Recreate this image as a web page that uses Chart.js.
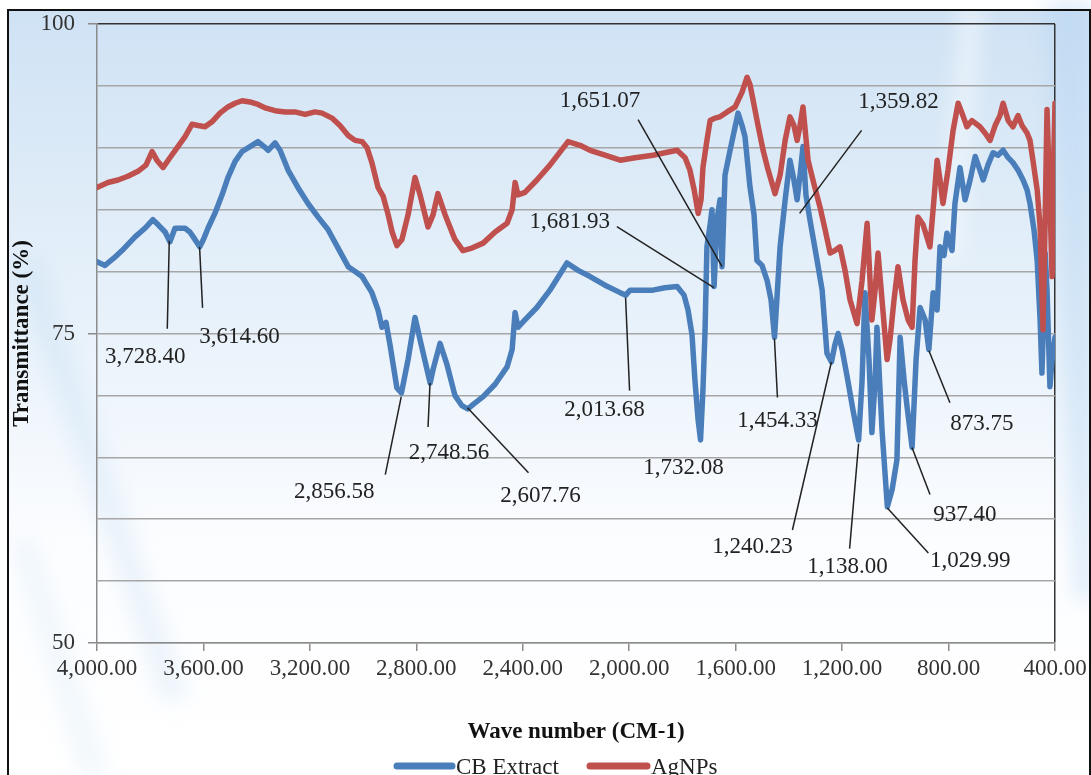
<!DOCTYPE html>
<html>
<head>
<meta charset="utf-8">
<script src="https://cdn.jsdelivr.net/npm/chart.js@4.4.1/dist/chart.umd.min.js"></script>
<style>
  html, body { margin: 0; padding: 0; background: #fff; }
  #wrap { width: 1091px; height: 775px; position: relative; overflow: hidden; }
</style>
</head>
<body>
<div id="wrap"><canvas id="c" width="1091" height="775"></canvas></div>
<script>
// ---------------- DATA ----------------
const seriesNames = ['CB Extract', 'AgNPs'];

const blueWn = [4000,3970,3936,3906,3857,3820,3790,3771,3744,3726,3707,3669,3651,3632,3614,3600,3583,3557,3530,3508,3481,3455,3425,3395,3372,3357,3331,3312,3282,3245,3207,3169,3132,3094,3056,3030,3004,2967,2944,2929,2914,2899,2873,2856,2831,2805,2786,2748,2737,2711,2685,2655,2630,2607,2585,2549,2504,2459,2440,2429,2418,2392,2347,2298,2234,2192,2147,2091,2034,2013,1997,1959,1911,1866,1820,1794,1779,1764,1753,1741,1732,1723,1715,1708,1696,1689,1681,1670,1659,1651,1640,1621,1591,1576,1565,1546,1531,1520,1501,1482,1467,1454,1433,1414,1396,1381,1369,1358,1347,1336,1321,1294,1275,1257,1240,1227,1215,1200,1181,1159,1138,1125,1114,1099,1088,1076,1069,1050,1030,1012,994,982,967,956,937,922,907,888,874,858,843,832,817,806,787,776,757,738,719,700,682,670,652,633,614,595,576,558,539,520,505,494,479,467,456,449,441,437,430,419,411,400];
const blueT  = [80.8,80.5,81.1,81.7,82.8,83.5,84.2,83.8,83.2,82.4,83.5,83.5,83.2,82.6,82.0,82.6,83.5,84.7,86.2,87.6,88.9,89.7,90.1,90.5,90.1,89.8,90.4,89.8,88.2,86.8,85.5,84.4,83.4,81.9,80.4,80.0,79.6,78.3,76.9,75.5,75.9,74.1,70.6,70.2,72.9,76.3,74.5,71.0,72.1,74.2,72.5,70.0,69.2,68.9,69.3,69.9,70.9,72.3,73.7,76.7,75.5,76.1,77.1,78.5,80.7,80.1,79.6,78.9,78.3,78.1,78.5,78.5,78.5,78.7,78.8,78.1,76.9,74.9,71.2,68.0,66.4,70.4,75.3,82.0,83.8,85.0,78.8,84.2,85.8,80.4,87.8,89.8,92.8,91.8,90.9,86.8,84.6,80.9,80.5,79.3,77.7,74.7,82.0,85.8,89.0,87.4,85.8,87.8,90.1,86.2,84.2,80.9,78.5,73.4,72.7,74.1,75.0,73.7,71.5,68.8,66.4,71.2,78.3,72.9,67.0,71.2,75.5,67.2,61.0,62.4,64.8,74.7,71.2,69.1,65.8,72.9,77.1,76.1,73.7,78.3,76.9,82.0,81.3,83.1,81.7,85.5,88.4,85.8,87.4,89.3,88.2,87.4,88.6,89.6,89.4,89.8,89.2,88.8,88.2,87.4,86.6,85.5,83.4,80.9,76.1,71.8,77.7,81.5,78.5,70.7,72.9,74.7];

const redWn = [4000,3959,3921,3884,3846,3816,3793,3775,3752,3726,3696,3669,3643,3620,3594,3568,3538,3508,3481,3455,3425,3395,3365,3331,3293,3256,3218,3181,3154,3117,3087,3056,3030,3004,2985,2967,2944,2925,2906,2891,2873,2854,2831,2805,2786,2756,2737,2719,2692,2655,2625,2591,2549,2504,2459,2440,2429,2418,2392,2347,2298,2230,2185,2147,2091,2034,1978,1911,1866,1820,1790,1772,1756,1741,1730,1723,1708,1696,1678,1659,1632,1602,1576,1557,1546,1535,1516,1497,1478,1452,1433,1414,1396,1381,1369,1358,1347,1328,1305,1283,1264,1245,1227,1208,1189,1170,1144,1125,1106,1095,1088,1076,1065,1050,1031,1020,1005,990,971,952,937,926,915,896,870,855,843,832,821,802,783,764,746,731,712,682,663,644,625,607,595,576,558,539,524,505,494,483,467,456,445,437,430,419,411,404,400];
const redT  = [86.8,87.2,87.4,87.7,88.1,88.6,89.7,89.0,88.4,89.2,90.1,90.9,91.9,91.8,91.7,92.1,92.8,93.3,93.6,93.8,93.7,93.5,93.2,93.0,92.9,92.9,92.7,92.9,92.8,92.4,91.8,91.0,90.6,90.5,90.0,88.8,86.8,86.1,84.6,83.2,82.1,82.6,84.6,87.6,86.2,83.6,84.6,86.3,84.6,82.6,81.7,81.9,82.3,83.2,83.9,85.0,87.2,86.2,86.4,87.4,88.6,90.5,90.2,89.8,89.4,89.0,89.2,89.4,89.6,89.8,89.2,88.2,86.6,84.7,85.8,88.4,90.6,92.2,92.4,92.5,92.9,93.3,94.5,95.7,95.1,93.9,91.8,89.8,88.2,86.3,87.8,90.6,92.5,91.8,90.6,91.8,93.3,89.0,87.0,85.2,83.4,81.5,81.7,82.0,80.1,77.7,75.8,79.3,83.9,79.3,76.1,78.5,81.5,77.7,72.9,74.5,77.7,80.4,77.7,76.1,75.5,80.9,84.4,83.8,82.0,85.8,89.0,87.4,85.5,88.2,91.4,93.6,92.6,91.7,92.2,91.7,91.2,90.6,91.8,92.6,93.6,92.2,91.7,92.6,91.8,91.2,90.6,89.0,86.6,83.6,75.3,84.2,93.1,85.8,79.6,89.8,93.6];

// annotated peaks (on the CB Extract curve)
const peakWn = [3728.40,3614.60,2856.58,2748.56,2607.76,2013.68,1732.08,1681.93,1651.07,1454.33,1359.82,1240.23,1138.00,1029.99,937.40,873.75];
const peakT  = [82.5,82.0,69.9,71.0,69.0,77.9,66.4,78.7,80.4,74.6,84.7,72.7,66.1,60.9,65.8,73.6];

// tick definitions
const xMin = 400, xMax = 4000, xStep = 400;
const yMin = 50, yMax = 100, yStep = 5, yLabelEvery = 25;

// ------------- LAYOUT (pixel offsets for the peak labels) -------------
// [text dx, text dy, leader end dx, leader end dy] relative to the peak point
const labelLayout = [
  [-24,116,-2,88],[40,90,3,61],[-67,95,-16,78],[19,70,-2,44],[73,88,61,65],
  [-21,112,4,93],[-17,28,0,0],[-144,-66,-97,-61],[-122,-166,-84,-147],[3,83,3,59],
  [99,-111,62,-83],[-79,185,-39,168],[-11,123,-9,105],[83,53,41,45],[53,68,18,47],[53,73,21,52]
];

const BLUE = '#4a7ebb', RED = '#c0504d';
const FONT = '"Liberation Serif", "Times New Roman", serif';
const fmt = v => Number(v).toLocaleString('en-US', {minimumFractionDigits: 2, maximumFractionDigits: 2});

const toXY = (xs, ys) => xs.map((x, i) => ({x, y: ys[i]}));

const bgPlugin = {
  id: 'bg',
  beforeDraw(chart) {
    const {ctx, width, height} = chart;
    ctx.save();
    ctx.fillStyle = '#ffffff';
    ctx.fillRect(0, 0, width, height);
    const g = ctx.createLinearGradient(0, 10, 0, 775);
    g.addColorStop(0, '#cfe2f4');
    g.addColorStop(0.25, '#dfecf8');
    g.addColorStop(0.5, '#eef5fc');
    g.addColorStop(0.7, '#fcfdff');
    g.addColorStop(1, '#ffffff');
    ctx.fillStyle = g;
    ctx.fillRect(9, 11, 1081, 764);
    // soft diagonal streaks (lower left)
    ctx.filter = 'blur(10px)';
    ctx.fillStyle = 'rgba(175,208,238,0.22)';
    ctx.beginPath();
    ctx.moveTo(10, 260); ctx.lineTo(40, 260); ctx.lineTo(190, 700); ctx.lineTo(160, 700);
    ctx.closePath(); ctx.fill();
    ctx.fillStyle = 'rgba(185,214,240,0.18)';
    ctx.beginPath();
    ctx.moveTo(10, 540); ctx.lineTo(35, 540); ctx.lineTo(110, 775); ctx.lineTo(80, 775);
    ctx.closePath(); ctx.fill();
    // right side band
    ctx.fillStyle = 'rgba(170,205,240,0.35)';
    ctx.beginPath();
    ctx.moveTo(1045, 0); ctx.lineTo(1095, 0); ctx.lineTo(1095, 600); ctx.lineTo(1075, 600);
    ctx.closePath(); ctx.fill();
    ctx.fillStyle = 'rgba(255,255,255,0.45)';
    ctx.beginPath();
    ctx.moveTo(960, 0); ctx.lineTo(985, 0); ctx.lineTo(960, 260); ctx.lineTo(940, 260);
    ctx.closePath(); ctx.fill();
    ctx.filter = 'none';
    // frame
    ctx.strokeStyle = '#111';
    ctx.lineWidth = 2;
    ctx.strokeRect(8, 10, 1082, 790);
    ctx.restore();
  }
};

const annPlugin = {
  id: 'ann',
  afterDatasetsDraw(chart) {
    const {ctx, scales: {x, y}} = chart;
    ctx.save();
    ctx.font = '23px ' + FONT;
    ctx.fillStyle = '#222';
    ctx.strokeStyle = '#222';
    ctx.lineWidth = 1.5;
    ctx.textAlign = 'center';
    ctx.textBaseline = 'middle';
    peakWn.forEach((wn, i) => {
      const px = x.getPixelForValue(wn);
      const py = y.getPixelForValue(peakT[i]);
      const [tdx, tdy, ldx, ldy] = labelLayout[i];
      if (ldx !== 0 || ldy !== 0) {
        ctx.beginPath();
        ctx.moveTo(px, py);
        ctx.lineTo(px + ldx, py + ldy);
        ctx.stroke();
      }
      ctx.fillText(fmt(wn), px + tdx, py + tdy);
    });
    ctx.restore();
  }
};

const legendPlugin = {
  id: 'customLegend',
  afterDraw(chart) {
    const {ctx} = chart;
    const items = [
      {name: seriesNames[0], color: BLUE, x0: 397, x1: 452},
      {name: seriesNames[1], color: RED, x0: 590, x1: 647}
    ];
    ctx.save();
    ctx.font = '23px ' + FONT;
    ctx.textAlign = 'left';
    ctx.textBaseline = 'middle';
    items.forEach(it => {
      ctx.strokeStyle = it.color;
      ctx.lineWidth = 7;
      ctx.lineCap = 'round';
      ctx.beginPath();
      ctx.moveTo(it.x0, 766);
      ctx.lineTo(it.x1, 766);
      ctx.stroke();
      ctx.fillStyle = '#222';
      ctx.fillText(it.name, it.x1 + 4, 768);
    });
    ctx.restore();
  }
};

new Chart(document.getElementById('c'), {
  type: 'line',
  data: {
    datasets: [
      {label: seriesNames[0], data: toXY(blueWn, blueT), borderColor: BLUE, backgroundColor: BLUE,
       borderWidth: 5.5, pointRadius: 0, tension: 0, borderJoinStyle: 'round', borderCapStyle: 'round', order: 2},
      {label: seriesNames[1], data: toXY(redWn, redT), borderColor: RED, backgroundColor: RED,
       borderWidth: 5.5, pointRadius: 0, tension: 0, borderJoinStyle: 'round', borderCapStyle: 'round', order: 1}
    ]
  },
  options: {
    responsive: false,
    animation: false,
    devicePixelRatio: 1,
    layout: {padding: {left: 0, top: 24, right: 36, bottom: 0}},
    plugins: {legend: {display: false}, tooltip: {enabled: false}},
    scales: {
      x: {
        type: 'linear', reverse: true, min: xMin, max: xMax,
        afterFit(s) { s.height = 132; s.paddingLeft = 0; s.paddingRight = 0; },
        ticks: {stepSize: xStep, autoSkip: false, maxRotation: 0, padding: 4, color: '#333',
                font: {family: FONT, size: 23}, callback: v => fmt(v)},
        grid: {
          color: c => (c.tick && c.tick.value === xMin) ? '#333' : 'rgba(0,0,0,0)',
          lineWidth: 1.5, tickColor: '#8c8c8c', tickLength: 8, drawOnChartArea: true
        },
        border: {color: '#8c8c8c', width: 1.5},
        title: {display: true, text: 'Wave number (CM-1)', color: '#111',
                font: {family: FONT, size: 23, weight: 'bold'}, padding: {top: 0, bottom: 29}}
      },
      y: {
        min: yMin, max: yMax,
        afterFit(s) { s.width = 97; s.paddingTop = 0; s.paddingBottom = 0; },
        ticks: {stepSize: yStep, padding: 13, color: '#333', font: {family: FONT, size: 23},
                callback: v => (v % yLabelEvery === 0 ? String(v) : '')},
        grid: {
          color: c => (c.tick && c.tick.value === yMax) ? '#333' : '#a6a6a6',
          lineWidth: 1.5, tickLength: 9,
          tickColor: c => (c.tick && c.tick.value % yLabelEvery === 0) ? '#8c8c8c' : 'rgba(0,0,0,0)'
        },
        border: {color: '#8c8c8c', width: 1.5},
        title: {display: true, text: 'Transmittance (%)', color: '#111',
                font: {family: FONT, size: 23, weight: 'bold'}, padding: {top: 8, bottom: 0}}
      }
    }
  },
  plugins: [bgPlugin, annPlugin, legendPlugin]
});
</script>
</body>
</html>
